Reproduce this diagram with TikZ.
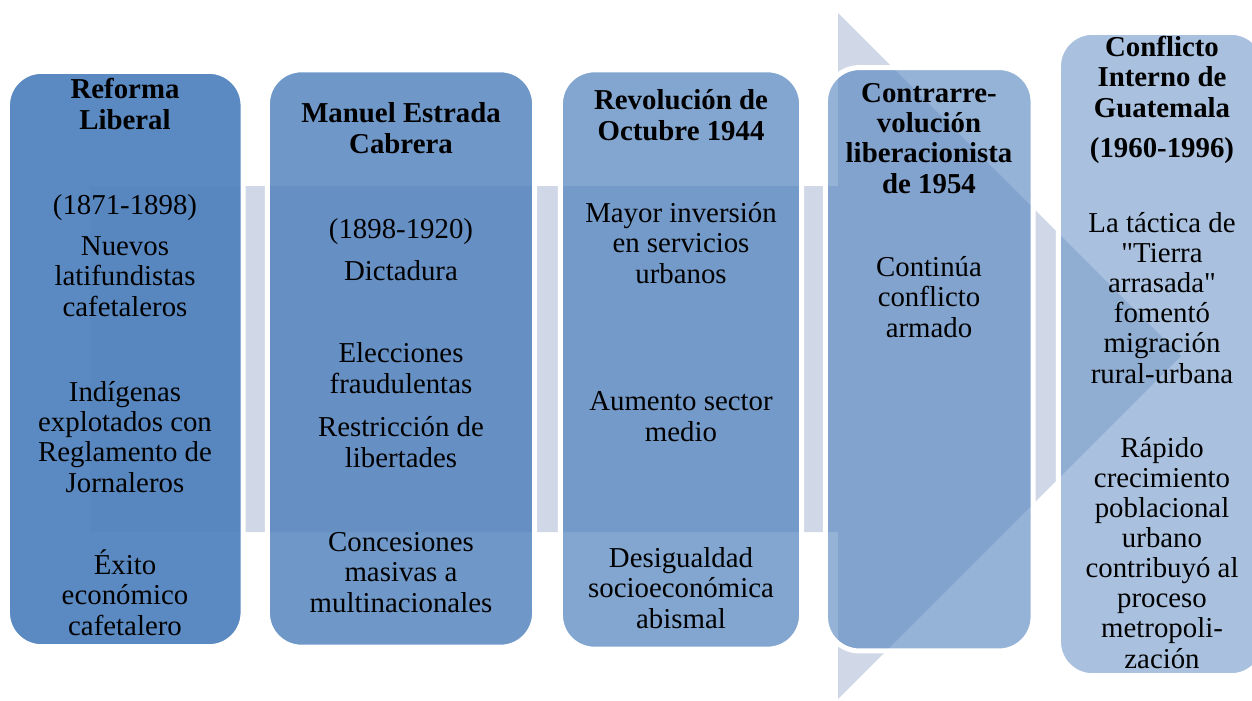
\documentclass[tikz,border=0pt]{standalone}
\usepackage{fontspec}
\setmainfont{Liberation Serif}[Ligatures=TeXOff]
\usetikzlibrary{positioning}

\definecolor{boxblue}{HTML}{4F81BD}
\definecolor{arrowgray}{HTML}{D0D8E8}

\begin{document}
\begin{tikzpicture}[
  x=0.01cm, y=-0.01cm,
  stage/.style={draw=white, line width=1.42pt, fill=boxblue, rounded corners=0.34cm, inner sep=0pt},
  txt/.style={align=center, anchor=base, inner sep=0pt, font=\fontsize{8.2}{8.54}\selectfont},
  head/.style={txt, font=\fontsize{8.2}{8.54}\selectfont\bfseries}
]
\useasboundingbox (0,0) rectangle (1252,700);

% background arrow
\fill[arrowgray] (90,186) -- (838,186) -- (838,13) -- (1181,356) -- (838,699) -- (838,532) -- (90,532) -- cycle;

% stages, fading to the right
\node[stage, fill opacity=0.93, minimum width=2.355cm, minimum height=5.75cm] (reforma) at (125.25,359) {};
\node[stage, fill opacity=0.82, minimum width=2.67cm, minimum height=5.77cm] (cabrera) at (401,358.5) {};
\node[stage, fill opacity=0.71, minimum width=2.41cm, minimum height=5.79cm] (revolucion) at (681,359.5) {};
\node[stage, fill opacity=0.60, minimum width=2.075cm, minimum height=5.83cm] (contra) at (929.25,359.25) {};
\node[stage, fill opacity=0.49, minimum width=2.065cm, minimum height=6.43cm] (conflicto) at (1161.75,354) {};

% texts sit on the baseline of their last line
% Reforma Liberal
\node[head] (reformaT) at (125,129) {Reforma\\Liberal};
\node[txt] (reformaA) at (125,214) {(1871-1898)};
\node[txt] (reformaB) at (125,316) {Nuevos\\latifundistas\\cafetaleros};
\node[txt] (reformaC) at (125,492) {Indígenas\\explotados con\\Reglamento de\\Jornaleros};
\node[txt] (reformaD) at (125,635) {Éxito\\económico\\cafetalero};

% Estrada Cabrera
\node[head] (cabreraT) at (401,153) {Manuel Estrada\\Cabrera};
\node[txt] (cabreraA) at (401,238) {(1898-1920)};
\node[txt] (cabreraB) at (401,280) {Dictadura};
\node[txt] (cabreraC) at (401,393) {Elecciones\\fraudulentas};
\node[txt] (cabreraD) at (401,467) {Restricción de\\libertades};
\node[txt] (cabreraE) at (401,612) {Concesiones\\masivas a\\multinacionales};

% Revolucion de 1944
\node[head] (revolucionT) at (681,140) {Revolución de\\Octubre 1944};
\node[txt] (revolucionA) at (681,283) {Mayor inversión\\en servicios\\urbanos};
\node[txt] (revolucionB) at (681,441) {Aumento sector\\medio};
\node[txt] (revolucionC) at (681,628) {Desigualdad\\socioeconómica\\abismal};

% Contrarrevolucion
\node[head] (contraT) at (929,193) {Contrarre-\\volución\\liberacionista\\de 1954};
\node[txt] (contraA) at (929,337) {Continúa\\conflicto\\armado};

% Conflicto interno
\node[head] (conflictoT) at (1162,117) {Conflicto\\Interno de\\Guatemala};
\node[head] (conflictoA) at (1162,157) {(1960-1996)};
\node[txt] (conflictoB) at (1162,383) {La táctica de\\"Tierra\\arrasada"\\fomentó\\migración\\rural-urbana};
\node[txt] (conflictoC) at (1162,668) {Rápido\\crecimiento\\poblacional\\urbano\\contribuyó al\\proceso\\metropoli-\\zación};

\end{tikzpicture}
\end{document}
